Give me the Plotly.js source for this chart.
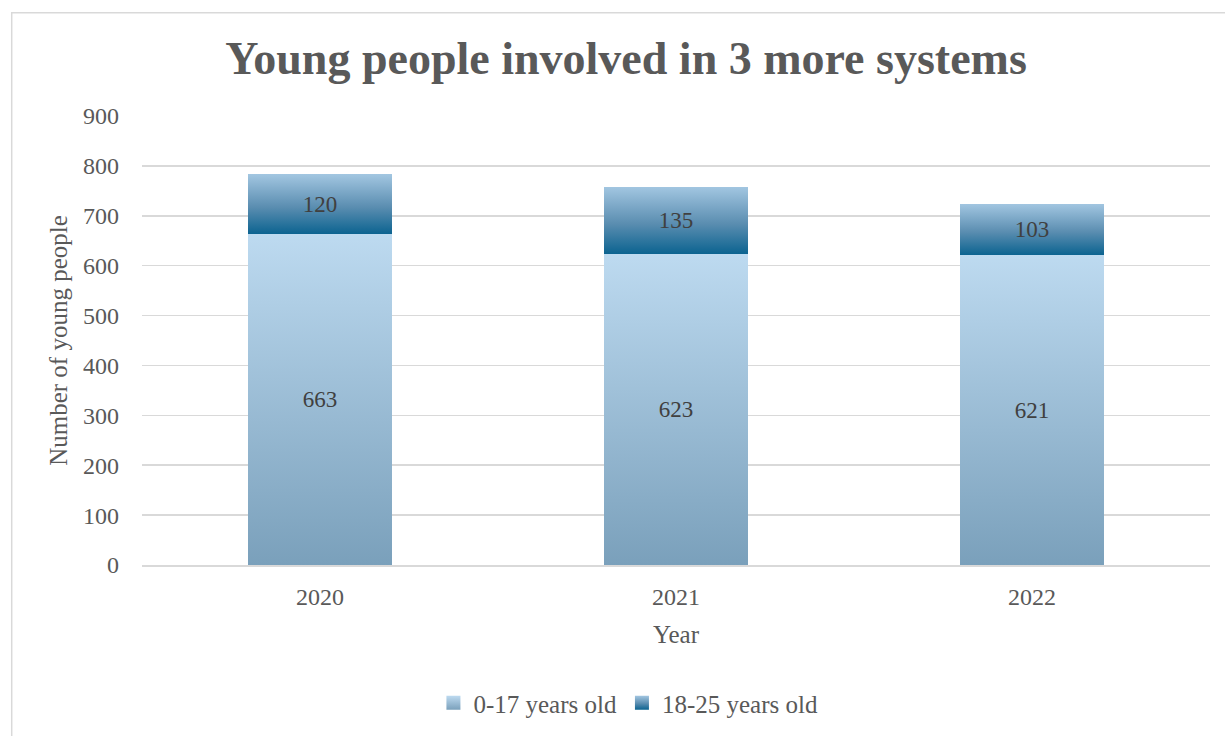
<!DOCTYPE html>
<html>
<head>
<meta charset="utf-8">
<script src="https://cdn.plot.ly/plotly-3.0.1.min.js"></script>
<style>html,body{margin:0;padding:0;background:#fff;}#chart{width:1225px;height:736px;}</style>
</head>
<body>
<div id="chart"></div>
<script>
const years = ["2020", "2021", "2022"];
const age0to17 = [663, 623, 621];
const age18to25 = [120, 135, 103];
const seriesNames = ["0-17 years old", "18-25 years old"];

const FONT = "Liberation Serif, DejaVu Serif, serif";
const labelFont = {family: FONT, size: 23, color: "#404040"};

const traces = [
  {type: "bar", name: seriesNames[0], x: years, y: age0to17,
   text: age0to17.map(String), textposition: "inside", insidetextanchor: "middle",
   textfont: labelFont, marker: {color: "#9dbdd6", line: {width: 0}}, hoverinfo: "skip"},
  {type: "bar", name: seriesNames[1], x: years, y: age18to25,
   text: age18to25.map(String), textposition: "inside", insidetextanchor: "middle",
   textfont: labelFont, marker: {color: "#4f8bb0", line: {width: 0}}, hoverinfo: "skip"}
];

const layout = {
  width: 1225, height: 736,
  barmode: "stack", bargap: 0.596,
  paper_bgcolor: "#fff", plot_bgcolor: "#fff",
  margin: {l: 142, r: 15, t: 116, b: 171},
  title: {text: "<b>Young people involved in 3 more systems</b>", x: 0.511, xanchor: "center",
          y: 0.922, yanchor: "middle", font: {family: FONT, size: 46, color: "#595959"}},
  font: {family: FONT, color: "#595959"},
  xaxis: {type: "category", tickfont: {family: FONT, size: 24, color: "#595959"},
          showgrid: false, showline: true, linecolor: "#d9d9d9", linewidth: 1.5, ticks: "",
          ticklabelstandoff: 10, automargin: false,
          title: {text: "Year", font: {family: FONT, size: 25, color: "#595959"}, standoff: 16}},
  yaxis: {range: [0, 900], dtick: 100, tickfont: {family: FONT, size: 24, color: "#595959"},
          showgrid: true, gridcolor: "#d9d9d9", gridwidth: 1.5, zeroline: false,
          ticks: "", ticklabelstandoff: 22, automargin: false,
          title: {text: "Number of young people", font: {family: FONT, size: 25, color: "#595959"}, standoff: 8}},
  legend: {orientation: "h", xref: "container", yref: "container", x: 0.513, xanchor: "center",
           y: 0.0448, yanchor: "middle",
           font: {family: FONT, size: 25, color: "#595959"}, itemwidth: 30, traceorder: "normal"},
  shapes: [{type: "rect", xref: "paper", yref: "paper", x0: -0.122, x1: 1.02, y0: -0.4, y1: 1.23,
            line: {color: "#d9d9d9", width: 1.5}, fillcolor: "rgba(0,0,0,0)", layer: "below"}],
  showlegend: true
};

function addGradients(gd) {
  const svg = gd.querySelector("svg.main-svg");
  const ns = "http://www.w3.org/2000/svg";
  let defs = svg.querySelector("defs");
  if (!defs) { defs = document.createElementNS(ns, "defs"); svg.insertBefore(defs, svg.firstChild); }
  const grads = [
    {id: "gA", stops: [["0", "#bddaf0"], ["1", "#7aa0bb"]]},
    {id: "gB", stops: [["0", "#a2c6e1"], ["0.55", "#5a8db0"], ["1", "#0b6390"]]}
  ];
  grads.forEach(g => {
    const lg = document.createElementNS(ns, "linearGradient");
    lg.setAttribute("id", g.id);
    lg.setAttribute("x1", "0"); lg.setAttribute("y1", "0");
    lg.setAttribute("x2", "0"); lg.setAttribute("y2", "1");
    g.stops.forEach(s => {
      const st = document.createElementNS(ns, "stop");
      st.setAttribute("offset", s[0]);
      st.setAttribute("stop-color", s[1]);
      lg.appendChild(st);
    });
    defs.appendChild(lg);
  });
  const traceGroups = gd.querySelectorAll(".barlayer .trace");
  traceGroups.forEach((tg, i) => {
    tg.querySelectorAll("path").forEach(p => { p.style.fill = "url(#" + grads[i].id + ")"; });
  });
  const legTraces = gd.querySelectorAll(".legend .traces");
  legTraces.forEach((lt, i) => {
    lt.querySelectorAll(".legendpoints path").forEach(p => {
      p.style.fill = "url(#" + grads[i].id + ")"; p.style.stroke = "none";
      p.setAttribute("d", "M7,7H-7V-7H7Z");
    });
  });
}

Plotly.newPlot("chart", traces, layout, {displayModeBar: false, staticPlot: true}).then(addGradients);
</script>
</body>
</html>
